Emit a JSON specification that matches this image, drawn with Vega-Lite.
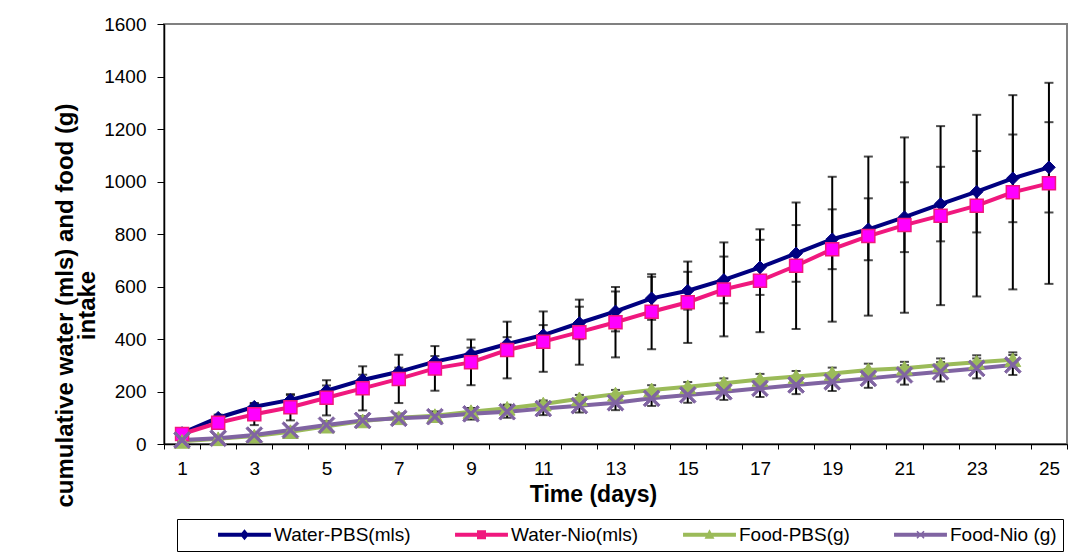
{
  "$schema": "https://vega.github.io/schema/vega-lite/v6.json",
  "width": 903,
  "height": 420,
  "autosize": {"type": "none"},
  "padding": {"left": 164, "top": 24, "right": 19, "bottom": 110},
  "background": "white",
  "config": {
    "view": {"stroke": "#808080", "strokeWidth": 2},
    "font": "Liberation Sans"
  },
  "data": {
    "values": [
      {"series": "Water-PBS(mls)", "day": 1, "value": 42, "sd": 5},
      {"series": "Water-PBS(mls)", "day": 2, "value": 100, "sd": 12},
      {"series": "Water-PBS(mls)", "day": 3, "value": 142, "sd": 14},
      {"series": "Water-PBS(mls)", "day": 4, "value": 168, "sd": 18},
      {"series": "Water-PBS(mls)", "day": 5, "value": 203, "sd": 20},
      {"series": "Water-PBS(mls)", "day": 6, "value": 244, "sd": 20},
      {"series": "Water-PBS(mls)", "day": 7, "value": 275, "sd": 16},
      {"series": "Water-PBS(mls)", "day": 8, "value": 314, "sd": 21},
      {"series": "Water-PBS(mls)", "day": 9, "value": 343, "sd": 24},
      {"series": "Water-PBS(mls)", "day": 10, "value": 381, "sd": 26},
      {"series": "Water-PBS(mls)", "day": 11, "value": 415, "sd": 38},
      {"series": "Water-PBS(mls)", "day": 12, "value": 461, "sd": 62},
      {"series": "Water-PBS(mls)", "day": 13, "value": 505, "sd": 76},
      {"series": "Water-PBS(mls)", "day": 14, "value": 555, "sd": 82},
      {"series": "Water-PBS(mls)", "day": 15, "value": 584, "sd": 72},
      {"series": "Water-PBS(mls)", "day": 16, "value": 625, "sd": 89},
      {"series": "Water-PBS(mls)", "day": 17, "value": 673, "sd": 105},
      {"series": "Water-PBS(mls)", "day": 18, "value": 726, "sd": 108},
      {"series": "Water-PBS(mls)", "day": 19, "value": 780, "sd": 114},
      {"series": "Water-PBS(mls)", "day": 20, "value": 818, "sd": 118},
      {"series": "Water-PBS(mls)", "day": 21, "value": 864, "sd": 133},
      {"series": "Water-PBS(mls)", "day": 22, "value": 914, "sd": 142},
      {"series": "Water-PBS(mls)", "day": 23, "value": 961, "sd": 155},
      {"series": "Water-PBS(mls)", "day": 24, "value": 1012, "sd": 167},
      {"series": "Water-PBS(mls)", "day": 25, "value": 1054, "sd": 172},
      {"series": "Water-Nio(mls)", "day": 1, "value": 38, "sd": 8},
      {"series": "Water-Nio(mls)", "day": 2, "value": 81, "sd": 20},
      {"series": "Water-Nio(mls)", "day": 3, "value": 113, "sd": 41},
      {"series": "Water-Nio(mls)", "day": 4, "value": 140, "sd": 50},
      {"series": "Water-Nio(mls)", "day": 5, "value": 176, "sd": 67},
      {"series": "Water-Nio(mls)", "day": 6, "value": 212, "sd": 84},
      {"series": "Water-Nio(mls)", "day": 7, "value": 248, "sd": 92},
      {"series": "Water-Nio(mls)", "day": 8, "value": 288, "sd": 85},
      {"series": "Water-Nio(mls)", "day": 9, "value": 311, "sd": 87},
      {"series": "Water-Nio(mls)", "day": 10, "value": 358, "sd": 108},
      {"series": "Water-Nio(mls)", "day": 11, "value": 390, "sd": 115},
      {"series": "Water-Nio(mls)", "day": 12, "value": 426, "sd": 124},
      {"series": "Water-Nio(mls)", "day": 13, "value": 464, "sd": 134},
      {"series": "Water-Nio(mls)", "day": 14, "value": 504, "sd": 143},
      {"series": "Water-Nio(mls)", "day": 15, "value": 540, "sd": 155},
      {"series": "Water-Nio(mls)", "day": 16, "value": 589, "sd": 179},
      {"series": "Water-Nio(mls)", "day": 17, "value": 622, "sd": 196},
      {"series": "Water-Nio(mls)", "day": 18, "value": 679, "sd": 241},
      {"series": "Water-Nio(mls)", "day": 19, "value": 742, "sd": 276},
      {"series": "Water-Nio(mls)", "day": 20, "value": 792, "sd": 303},
      {"series": "Water-Nio(mls)", "day": 21, "value": 834, "sd": 334},
      {"series": "Water-Nio(mls)", "day": 22, "value": 870, "sd": 341},
      {"series": "Water-Nio(mls)", "day": 23, "value": 908, "sd": 346},
      {"series": "Water-Nio(mls)", "day": 24, "value": 959, "sd": 370},
      {"series": "Water-Nio(mls)", "day": 25, "value": 993, "sd": 383},
      {"series": "Food-PBS(g)", "day": 1, "value": 10, "sd": 3},
      {"series": "Food-PBS(g)", "day": 2, "value": 20, "sd": 4},
      {"series": "Food-PBS(g)", "day": 3, "value": 30, "sd": 6},
      {"series": "Food-PBS(g)", "day": 4, "value": 47, "sd": 7},
      {"series": "Food-PBS(g)", "day": 5, "value": 68, "sd": 8},
      {"series": "Food-PBS(g)", "day": 6, "value": 88, "sd": 10},
      {"series": "Food-PBS(g)", "day": 7, "value": 100, "sd": 10},
      {"series": "Food-PBS(g)", "day": 8, "value": 108, "sd": 12},
      {"series": "Food-PBS(g)", "day": 9, "value": 123, "sd": 12},
      {"series": "Food-PBS(g)", "day": 10, "value": 136, "sd": 14},
      {"series": "Food-PBS(g)", "day": 11, "value": 152, "sd": 14},
      {"series": "Food-PBS(g)", "day": 12, "value": 172, "sd": 15},
      {"series": "Food-PBS(g)", "day": 13, "value": 190, "sd": 16},
      {"series": "Food-PBS(g)", "day": 14, "value": 206, "sd": 18},
      {"series": "Food-PBS(g)", "day": 15, "value": 218, "sd": 18},
      {"series": "Food-PBS(g)", "day": 16, "value": 231, "sd": 19},
      {"series": "Food-PBS(g)", "day": 17, "value": 246, "sd": 21},
      {"series": "Food-PBS(g)", "day": 18, "value": 257, "sd": 21},
      {"series": "Food-PBS(g)", "day": 19, "value": 269, "sd": 22},
      {"series": "Food-PBS(g)", "day": 20, "value": 282, "sd": 24},
      {"series": "Food-PBS(g)", "day": 21, "value": 289, "sd": 24},
      {"series": "Food-PBS(g)", "day": 22, "value": 301, "sd": 25},
      {"series": "Food-PBS(g)", "day": 23, "value": 311, "sd": 27},
      {"series": "Food-PBS(g)", "day": 24, "value": 321, "sd": 28},
      {"series": "Food-Nio (g)", "day": 1, "value": 15, "sd": 5},
      {"series": "Food-Nio (g)", "day": 2, "value": 22, "sd": 8},
      {"series": "Food-Nio (g)", "day": 3, "value": 34, "sd": 10},
      {"series": "Food-Nio (g)", "day": 4, "value": 53, "sd": 12},
      {"series": "Food-Nio (g)", "day": 5, "value": 72, "sd": 15},
      {"series": "Food-Nio (g)", "day": 6, "value": 90, "sd": 16},
      {"series": "Food-Nio (g)", "day": 7, "value": 98, "sd": 18},
      {"series": "Food-Nio (g)", "day": 8, "value": 104, "sd": 20},
      {"series": "Food-Nio (g)", "day": 9, "value": 115, "sd": 22},
      {"series": "Food-Nio (g)", "day": 10, "value": 123, "sd": 23},
      {"series": "Food-Nio (g)", "day": 11, "value": 135, "sd": 25},
      {"series": "Food-Nio (g)", "day": 12, "value": 146, "sd": 26},
      {"series": "Food-Nio (g)", "day": 13, "value": 157, "sd": 28},
      {"series": "Food-Nio (g)", "day": 14, "value": 174, "sd": 29},
      {"series": "Food-Nio (g)", "day": 15, "value": 187, "sd": 30},
      {"series": "Food-Nio (g)", "day": 16, "value": 199, "sd": 31},
      {"series": "Food-Nio (g)", "day": 17, "value": 212, "sd": 33},
      {"series": "Food-Nio (g)", "day": 18, "value": 225, "sd": 35},
      {"series": "Food-Nio (g)", "day": 19, "value": 237, "sd": 35},
      {"series": "Food-Nio (g)", "day": 20, "value": 250, "sd": 36},
      {"series": "Food-Nio (g)", "day": 21, "value": 263, "sd": 37},
      {"series": "Food-Nio (g)", "day": 22, "value": 275, "sd": 37},
      {"series": "Food-Nio (g)", "day": 23, "value": 288, "sd": 38},
      {"series": "Food-Nio (g)", "day": 24, "value": 301, "sd": 38}
    ]
  },
  "encoding": {
    "x": {
      "field": "day",
      "type": "quantitative",
      "scale": {"domain": [0.5, 25.5], "nice": false, "zero": false},
      "axis": {
        "values": [0.5, 1, 1.5, 2.5, 3, 3.5, 4.5, 5, 5.5, 6.5, 7, 7.5, 8.5, 9, 9.5, 10.5, 11, 11.5, 12.5, 13, 13.5, 14.5, 15, 15.5, 16.5, 17, 17.5, 18.5, 19, 19.5, 20.5, 21, 21.5, 22.5, 23, 23.5, 24.5, 25, 25.5],
        "labelExpr": "datum.value % 2 == 1 ? format(datum.value, 'd') : ''",
        "tickOpacity": {"condition": {"test": "datum.value % 1 == 0", "value": 0}, "value": 1},
        "tickSize": 5,
        "tickColor": "black",
        "domainColor": "black",
        "domainWidth": 1.5,
        "labelColor": "black",
        "labelFontSize": 19,
        "labelPadding": 10,
        "labelFlush": false,
        "labelOverlap": false,
        "labelBound": false,
        "grid": false,
        "title": "Time (days)",
        "titleFontSize": 23,
        "titleFontWeight": "bold",
        "titleColor": "black",
        "titleX": 429,
        "titleY": 50,
        "titleAlign": "center",
        "titleBaseline": "middle"
      }
    },
    "y": {
      "field": "value",
      "type": "quantitative",
      "scale": {"domain": [0, 1600], "nice": false},
      "axis": {
        "values": [0, 200, 400, 600, 800, 1000, 1200, 1400, 1600],
        "format": "d",
        "tickSize": 7,
        "tickColor": "black",
        "domainColor": "black",
        "domainWidth": 1.5,
        "labelColor": "black",
        "labelFontSize": 19,
        "labelPadding": 11,
        "grid": false,
        "title": ["cumulative water (mls) and food (g)", "intake"],
        "titleFontSize": 24,
        "titleFontWeight": "bold",
        "titleColor": "black",
        "titleLineHeight": 22,
        "titleAngle": -90,
        "titleX": -99,
        "titleY": 281,
        "titleAlign": "center",
        "titleBaseline": "middle"
      }
    }
  },
  "layer": [
    {
      "mark": {"type": "errorbar", "ticks": {"size": 9}, "thickness": 2, "color": "black"},
      "encoding": {"yError": {"field": "sd"}}
    },
    {
      "mark": {"type": "line", "strokeWidth": 4},
      "encoding": {
        "color": {
          "field": "series",
          "type": "nominal",
          "scale": {
            "domain": ["Water-PBS(mls)", "Water-Nio(mls)", "Food-PBS(g)", "Food-Nio (g)"],
            "range": ["#000080", "#F0187E", "#9BBB59", "#8064A2"]
          },
          "legend": {
            "orient": "none",
            "legendX": 13,
            "legendY": 495,
            "direction": "horizontal",
            "title": " ",
            "titleOrient": "left",
            "titlePadding": 52,
            "padding": 6,
            "strokeColor": "#000000",
            "fillColor": "white",
            "columnPadding": 44,
            "labelFontSize": 19,
            "labelColor": "black",
            "labelOffset": 20,
            "symbolSize": 324,
            "encode": {
              "symbols": {
                "update": {
                  "shape": {"signal": "datum.value === 'Water-PBS(mls)' ? 'M-2.94,-0.22H2.94V0.22H-2.94ZM0,-0.6L0.5,0L0,0.6L-0.5,0Z' : datum.value === 'Water-Nio(mls)' ? 'M-2.94,-0.22H2.94V0.22H-2.94ZM-0.5,-0.5H0.5V0.5H-0.5Z' : datum.value === 'Food-PBS(g)' ? 'M-2.94,-0.22H2.94V0.22H-2.94ZM0,-0.6L0.55,0.45H-0.55Z' : 'M-2.94,-0.22H2.94V0.22H-2.94ZM-0.45,-0.33L-0.33,-0.45L0,-0.12L0.33,-0.45L0.45,-0.33L0.12,0L0.45,0.33L0.33,0.45L0,0.12L-0.33,0.45L-0.45,0.33L-0.12,0Z'"},
                  "fill": {"scale": "color", "field": "value"},
                  "stroke": {"value": "transparent"},
                  "strokeWidth": {"value": 0},
                  "size": {"value": 324},
                  "opacity": {"value": 1}
                }
              }
            }
          }
        }
      }
    },
    {
      "transform": [{"filter": "datum.series === 'Water-PBS(mls)'"}],
      "mark": {"type": "point", "filled": true, "opacity": 1, "shape": "diamond", "size": 160, "fill": "#000080", "stroke": "#000080", "strokeWidth": 1}
    },
    {
      "transform": [{"filter": "datum.series === 'Water-Nio(mls)'"}],
      "mark": {"type": "point", "filled": true, "opacity": 1, "shape": "square", "size": 169, "fill": "#FF00FF", "stroke": "#F0187E", "strokeWidth": 1.5}
    },
    {
      "transform": [{"filter": "datum.series === 'Food-PBS(g)'"}],
      "mark": {"type": "point", "filled": true, "opacity": 1, "shape": "triangle-up", "size": 250, "fill": "#9BBB59", "stroke": "#9BBB59", "strokeWidth": 1}
    },
    {
      "transform": [{"filter": "datum.series === 'Food-Nio (g)'"}],
      "mark": {"type": "point", "filled": true, "opacity": 1, "shape": "M-1,-0.78L-0.78,-1L0,-0.22L0.78,-1L1,-0.78L0.22,0L1,0.78L0.78,1L0,0.22L-0.78,1L-1,0.78L-0.22,0Z", "size": 280, "fill": "#8064A2", "stroke": "#8064A2", "strokeWidth": 1}
    }
  ]
}
